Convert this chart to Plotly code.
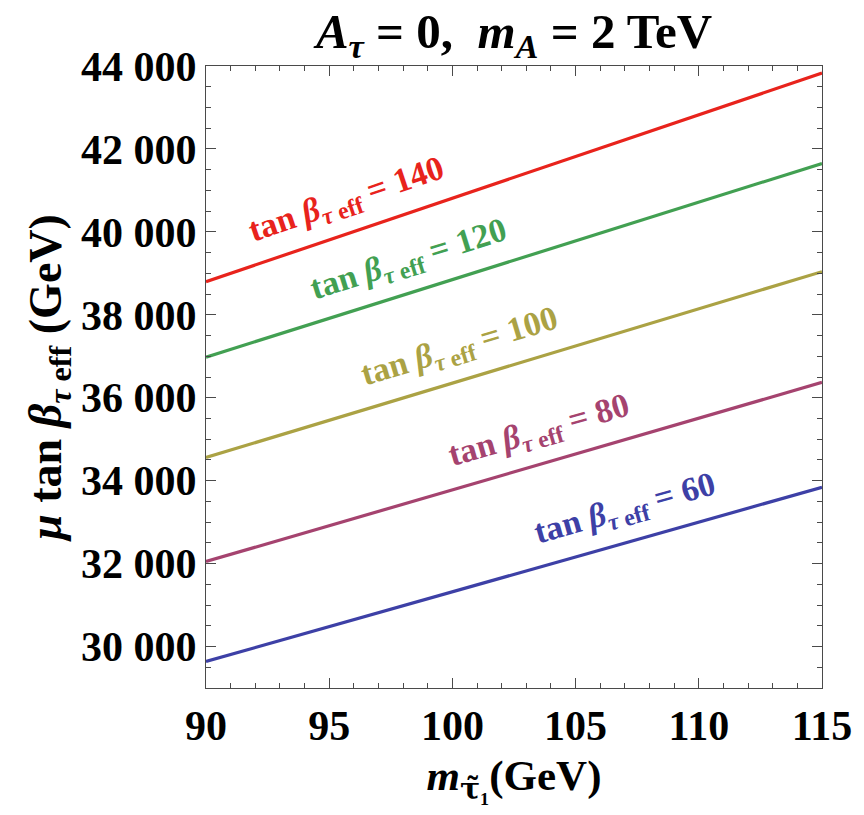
import math
import plotly.graph_objects as go

# stau mass range (GeV)
m_stau = [90, 115]

# effective tan(beta) contours
tanb_eff = [140, 120, 100, 80, 60]
# mu * tan(beta_eff) (GeV) at m_stau = 90 and 115 GeV
mu_tanb_at_90 = [38800, 36980, 34560, 32050, 29640]
mu_tanb_at_115 = [43830, 41650, 39040, 36370, 33840]

line_colors = ["#e8231c", "#42a052", "#aba244", "#a5436f", "#3d40a6"]

# where each contour label sits along its line (GeV)
label_pos = [95.7, 98.2, 100.3, 103.5, 107.0]

x_ticks = [90, 95, 100, 105, 110, 115]
y_ticks = [30000, 32000, 34000, 36000, 38000, 40000, 42000, 44000]
y_ticktext = ["30 000", "32 000", "34 000", "36 000", "38 000", "40 000", "42 000", "44 000"]

W, H = 864, 815
M_L, M_R, M_T, M_B = 206, 38, 66, 127
X_RANGE = [90, 115]
Y_RANGE = [29000, 44000]

serif = "Liberation Serif"
frame_col = "#4a4a4a"

fig = go.Figure()

for i, tb in enumerate(tanb_eff):
    fig.add_trace(go.Scatter(
        x=m_stau,
        y=[mu_tanb_at_90[i], mu_tanb_at_115[i]],
        mode="lines",
        line=dict(color=line_colors[i], width=3.2),
        showlegend=False,
        hoverinfo="skip",
    ))

# pixels per data unit, used to tilt the labels along their lines
px_x = (W - M_L - M_R) / (X_RANGE[1] - X_RANGE[0])
px_y = (H - M_T - M_B) / (Y_RANGE[1] - Y_RANGE[0])

for i, tb in enumerate(tanb_eff):
    y0, y1 = mu_tanb_at_90[i], mu_tanb_at_115[i]
    slope = (y1 - y0) / (m_stau[1] - m_stau[0])
    ang = -math.degrees(math.atan(slope * px_y / px_x))
    xl = label_pos[i]
    yl = y0 + slope * (xl - m_stau[0])
    fig.add_annotation(
        x=xl, y=yl, xref="x", yref="y",
        text=f"tan <i>β</i><sub><i>τ</i> eff</sub> = {tb}",
        showarrow=False, textangle=ang, yshift=33,
        font=dict(family=serif, size=34, color=line_colors[i], weight="bold"),
    )

fig.update_layout(
    width=W, height=H,
    margin=dict(l=M_L, r=M_R, t=M_T, b=M_B),
    paper_bgcolor="white", plot_bgcolor="white",
    title=dict(
        text="<i>A</i><sub><i>τ</i></sub> = 0,  <i>m</i><sub><i>A</i></sub> = 2 TeV",
        x=0.5, xref="paper", xanchor="center",
        y=1 - 31 / H, yref="container", yanchor="middle",
        font=dict(family=serif, size=49, color="black", weight="bold"),
    ),
    xaxis=dict(
        range=X_RANGE, tickvals=x_ticks,
        ticks="inside", ticklen=10, tickwidth=1.2, tickcolor=frame_col,
        minor=dict(dtick=1, ticks="inside", ticklen=5, tickwidth=1, tickcolor=frame_col),
        showline=True, linecolor=frame_col, linewidth=1.4, mirror="ticks",
        showgrid=False, zeroline=False,
        tickfont=dict(family=serif, size=42, color="black", weight="bold"),
        title=dict(
            text="<i>m</i><sub><span style='font-family:DejaVu Serif'>τ̃</span>₁</sub>(GeV)",
            font=dict(family=serif, size=43, color="black", weight="bold"),
            standoff=12,
        ),
    ),
    yaxis=dict(
        range=Y_RANGE, tickvals=y_ticks, ticktext=y_ticktext,
        ticks="inside", ticklen=10, tickwidth=1.2, tickcolor=frame_col,
        minor=dict(dtick=500, ticks="inside", ticklen=5, tickwidth=1, tickcolor=frame_col),
        showline=True, linecolor=frame_col, linewidth=1.4, mirror="ticks",
        showgrid=False, zeroline=False,
        tickfont=dict(family=serif, size=42, color="black", weight="bold"),
        title=dict(
            text="<i>μ</i> tan <i>β</i><sub><i>τ</i> eff</sub> (GeV)",
            font=dict(family=serif, size=46, color="black", weight="bold"),
            standoff=4,
        ),
    ),
)

fig.write_html("out.html")
